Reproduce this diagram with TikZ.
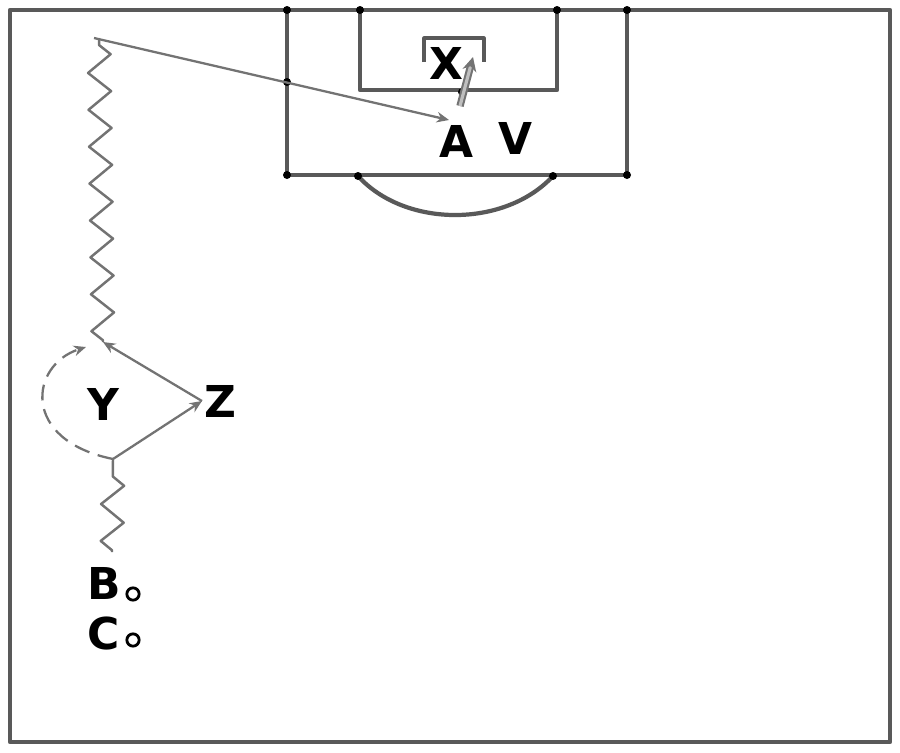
\documentclass[tikz,border=0pt]{standalone}
\usepackage{fontspec}
\setmainfont{DejaVu Sans}
\usetikzlibrary{arrows.meta,decorations.pathmorphing}
\tikzset{
  pitch/.style={draw=black!65, line width=2.4pt, line join=round},
  pass/.style={draw=black!55, line width=1.3pt, -{Stealth[length=7pt,width=6pt]}},
  dribble/.style={draw=black!55, line width=1.4pt, line join=round, decorate,
    decoration={zigzag, segment length=21pt, amplitude=6.5pt, pre length=1pt, post length=1pt}},
  run/.style={draw=black!55, line width=1.3pt, dash pattern=on 9pt off 5pt, -{Stealth[length=7pt,width=6pt]}},
  shot/.style={draw=black!55, line width=1.2pt, double=black!25, double distance=1.8pt, -{Stealth[length=8pt,width=8pt]}},
  player/.style={font=\fontsize{25}{25}\selectfont\bfseries, inner sep=1pt},
  cone/.style={circle, draw=black, line width=1.6pt, inner sep=0pt, minimum size=7pt}
}
\begin{document}
\begin{tikzpicture}[x=0.02cm, y=-0.02cm]
\useasboundingbox (0,0) rectangle (900,752);
% pitch
\draw[pitch] (10,10) rectangle (890,742);
\draw[pitch] (287,10) -- (287,175) -- (627,175) -- (627,10);
\draw[pitch] (360,10) -- (360,90) -- (557,90) -- (557,10);
\draw[pitch] (358,176) .. controls (405,228) and (505,228) .. (553,176);
\draw[pitch, line width=1.8pt] (424,62) -- (424,38) -- (484,38) -- (484,62);
\foreach \p in {(287,10),(360,10),(557,10),(627,10),(287,175),(627,175),(358,176),(553,176),(287,82),(462,92)}
   \fill [black] \p circle (4);

% players
\node [player] (X) at (446,63) {X};
\node [player] (A) at (456,141) {A};
\node [player] (V) at (515,138) {V};
\node [player] (Y) at (103,404) {Y};
\node [player] (Z) at (220,401) {Z};
\node [player] (B) at (104,583) {B};
\node [player] (C) at (104,633) {C};
\node [cone] (cb) at (133,594) {};
\node [cone] (cc) at (133,640) {};

\coordinate (start) at (112,552);
\coordinate (turn) at (113,459);
\coordinate (back) at (103,342);
\coordinate (runend) at (86,347);
\coordinate (top) at (99,38);
\coordinate (corner) at (94,38);
\coordinate (cross) at (449,120);
\coordinate (goal) at (473,57);
\coordinate (shoot) at (460,106);

% moves
\draw[dribble] (start) -- (turn);
\draw[pass] (turn) -- (Z.west);
\draw[pass] (Z.west) -- (back);
\draw[run] (turn) .. controls (20,440) and (30,365) .. (runend);
\draw[dribble] (back) -- (top);
\draw[pass] (corner) -- (cross);
\draw[shot] (shoot) -- (goal);
\end{tikzpicture}
\end{document}
